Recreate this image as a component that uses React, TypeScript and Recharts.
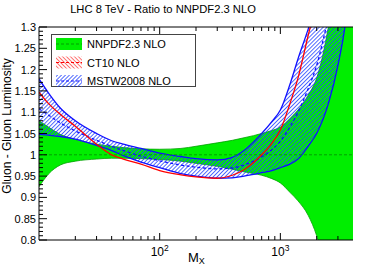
import React from 'react';
import { ComposedChart, Area, Line, XAxis, YAxis } from 'recharts';

// invariant mass points (GeV)
const massGeV = [10, 12, 15, 20, 30, 40, 50, 70, 100, 150, 200, 300, 400, 500, 600, 700, 850, 1000, 1200, 1400, 1700, 2000, 2500, 3000, 3500, 4000];

// NNPDF2.3 NLO band (ratio to itself)
const nnpdfLow = [0.925, 0.955, 0.976, 0.985, 0.99, 0.992, 0.992, 0.991, 0.989, 0.985, 0.98, 0.973, 0.966, 0.96, 0.956, 0.952, 0.944, 0.934, 0.912, 0.892, 0.858, 0.81, 0.7, 0.6, 0.5, 0.4];
const nnpdfHigh = [1.08, 1.065, 1.048, 1.036, 1.025, 1.02, 1.017, 1.014, 1.013, 1.015, 1.02, 1.028, 1.034, 1.04, 1.045, 1.05, 1.057, 1.065, 1.085, 1.105, 1.14, 1.18, 1.3, 1.45, 1.6, 1.8];
const nnpdfCentral = [1, 1, 1, 1, 1, 1, 1, 1, 1, 1, 1, 1, 1, 1, 1, 1, 1, 1, 1, 1, 1, 1, 1, 1, 1, 1];

// MSTW2008 NLO band
const mstwLow = [1.048, 1.046, 1.043, 1.037, 1.022, 1.01, 0.998, 0.983, 0.97, 0.956, 0.95, 0.945, 0.946, 0.95, 0.954, 0.958, 0.963, 0.97, 0.978, 0.99, 1.02, 1.05, 1.12, 1.21, 1.32, 1.5];
const mstwHigh = [1.178, 1.145, 1.11, 1.08, 1.05, 1.033, 1.025, 1.015, 1.004, 0.996, 0.991, 0.988, 0.994, 1.01, 1.03, 1.05, 1.078, 1.105, 1.165, 1.225, 1.295, 1.36, 1.5, 1.6, 1.7, 1.8];
const mstwCentral = [1.108, 1.093, 1.075, 1.056, 1.034, 1.02, 1.01, 0.997, 0.986, 0.976, 0.971, 0.967, 0.969, 0.976, 0.985, 0.995, 1.012, 1.032, 1.065, 1.1, 1.155, 1.21, 1.32, 1.4, 1.5, 1.6];

// CT10 NLO central
const ct10Central = [1.147, 1.12, 1.095, 1.067, 1.025, 1.0, 0.99, 0.978, 0.963, 0.953, 0.948, 0.945, 0.952, 0.965, 0.982, 1.0, 1.027, 1.058, 1.12, 1.18, 1.28, 1.36, 1.5, 1.6, 1.7, 1.8];

const xTicks = [20, 30, 40, 50, 60, 70, 80, 90, 100, 200, 300, 400, 500, 600, 700, 800, 900, 1000, 2000, 3000];
const xLabels: Record<number, string> = { 100: '2', 1000: '3' };

const yMajorLabels = ['0.8', '0.85', '0.9', '0.95', '1', '1.05', '1.1', '1.15', '1.2', '1.25', '1.3'];
const yTicks: number[] = [];
for (let i = 80; i <= 130; i++) yTicks.push(i / 100);

const data = massGeV.map((m, i) => ({
    m,
    nnpdf: [nnpdfLow[i], nnpdfHigh[i]],
    nnpdfMid: nnpdfCentral[i],
    mstw: [mstwLow[i], mstwHigh[i]],
    mstwMid: mstwCentral[i],
    ct10: ct10Central[i],
}));

const FONT = '"Liberation Sans", Arial, Helvetica, sans-serif';

const BottomTick = (props: any) => {
    const { x, y, payload } = props;
    const v = payload.value;
    const major = xLabels[v] !== undefined;
    return (
        <g>
            <line x1={x} y1={y} x2={x} y2={y - (major ? 7 : 4)} stroke="#000" />
            {major && (
                <text x={x} y={y + 16} textAnchor="middle" fontSize={12} fontFamily={FONT} fill="#000">
                    10<tspan dy={-5} fontSize={8.5}>{xLabels[v]}</tspan>
                </text>
            )}
        </g>
    );
};

const TopTick = (props: any) => {
    const { x, y, payload } = props;
    const major = xLabels[payload.value] !== undefined;
    return <line x1={x} y1={y} x2={x} y2={y + (major ? 7 : 4)} stroke="#000" />;
};

const LeftTick = (props: any) => {
    const { x, y, payload } = props;
    const k = Math.round(payload.value * 100);
    const major = k % 5 === 0;
    return (
        <g>
            <line x1={x} y1={y} x2={x + (major ? 8 : 4)} y2={y} stroke="#000" />
            {major && (
                <text x={x - 3} y={y + 4} textAnchor="end" fontSize={11} fontFamily={FONT} fill="#000">
                    {yMajorLabels[(k - 80) / 5]}
                </text>
            )}
        </g>
    );
};

export default function App() {
    return (
        <div style={{ position: 'absolute', left: 0, top: 0, width: 392, height: 266, background: '#fff' }}>
            <ComposedChart width={392} height={266} data={data} margin={{ top: 0, right: 39, bottom: 0, left: 0 }}>
                <XAxis
                    dataKey="m"
                    type="number"
                    scale="log"
                    domain={[10, 4000]}
                    allowDataOverflow
                    ticks={xTicks}
                    interval={0}
                    height={26}
                    tickSize={0}
                    tickMargin={0}
                    tickLine={false}
                    axisLine={{ stroke: '#000' }}
                    tick={<BottomTick />}
                />
                <XAxis
                    xAxisId="top"
                    orientation="top"
                    dataKey="m"
                    type="number"
                    scale="log"
                    domain={[10, 4000]}
                    allowDataOverflow
                    ticks={xTicks}
                    interval={0}
                    height={27}
                    tickSize={0}
                    tickMargin={0}
                    tickLine={false}
                    axisLine={{ stroke: '#000' }}
                    tick={<TopTick />}
                />
                <YAxis
                    type="number"
                    domain={[0.8, 1.3]}
                    allowDataOverflow
                    ticks={yTicks}
                    interval={0}
                    width={39}
                    tickSize={0}
                    tickMargin={0}
                    tickLine={false}
                    axisLine={{ stroke: '#000' }}
                    tick={<LeftTick />}
                />
                <Area
                    dataKey="nnpdf"
                    type="monotone"
                    fill="#00ee00"
                    fillOpacity={1}
                    stroke="#00a000"
                    strokeWidth={0.8}
                    dot={false}
                    activeDot={false}
                    isAnimationActive={false}
                />
                <Area
                    dataKey="mstw"
                    type="monotone"
                    fill="url(#mstwHatch)"
                    fillOpacity={1}
                    stroke="#1010ff"
                    strokeWidth={1.3}
                    dot={false}
                    activeDot={false}
                    isAnimationActive={false}
                />
                <Line
                    dataKey="nnpdfMid"
                    type="monotone"
                    stroke="#00a000"
                    strokeWidth={1}
                    strokeDasharray="3 2"
                    dot={false}
                    activeDot={false}
                    isAnimationActive={false}
                />
                <Line
                    dataKey="mstwMid"
                    type="monotone"
                    stroke="#1010ff"
                    strokeWidth={1.3}
                    strokeDasharray="3 2.5"
                    dot={false}
                    activeDot={false}
                    isAnimationActive={false}
                />
                <Line
                    dataKey="ct10"
                    type="monotone"
                    stroke="#ff0000"
                    strokeWidth={1.3}
                    dot={false}
                    activeDot={false}
                    isAnimationActive={false}
                />
            </ComposedChart>
            <svg width={392} height={266} style={{ position: 'absolute', left: 0, top: 0, pointerEvents: 'none' }}>
                <defs>
                    <pattern id="mstwHatch" patternUnits="userSpaceOnUse" width={2.8} height={6} patternTransform="rotate(45)">
                        <line x1={1.4} y1={0} x2={1.4} y2={6} stroke="#2040ff" strokeWidth={0.8} />
                    </pattern>
                    <pattern id="ct10Hatch" patternUnits="userSpaceOnUse" width={2.8} height={6} patternTransform="rotate(-45)">
                        <line x1={1.4} y1={0} x2={1.4} y2={6} stroke="#ff5050" strokeWidth={0.8} />
                    </pattern>
                </defs>
                <text x={163} y={13} textAnchor="middle" fontSize={11.2} fontFamily={FONT} fill="#000">
                    LHC 8 TeV - Ratio to NNPDF2.3 NLO
                </text>
                <text x={11} y={126} transform="rotate(-90 11 126)" textAnchor="middle" fontSize={12} fontFamily={FONT} fill="#000">
                    Gluon - Gluon Luminosity
                </text>
                <text x={188} y={262} fontSize={13} fontFamily={FONT} fill="#000">
                    M<tspan dy={2} fontSize={9}>X</tspan>
                </text>
                <rect x={51.5} y={34.5} width={144} height={52} fill="#fff" stroke="#444" strokeWidth={1} />
                <rect x={56} y={38} width={26} height={12} fill="#00ee00" />
                <line x1={56} y1={44} x2={82} y2={44} stroke="#00a000" strokeDasharray="3 2" />
                <text x={87} y={48} fontSize={11} fontFamily={FONT} fill="#000">NNPDF2.3 NLO</text>
                <rect x={56} y={56.5} width={26} height={12} fill="url(#ct10Hatch)" />
                <line x1={56} y1={62.5} x2={82} y2={62.5} stroke="#ff0000" strokeDasharray="3 2" />
                <text x={87} y={66.5} fontSize={11} fontFamily={FONT} fill="#000">CT10 NLO</text>
                <rect x={56} y={75} width={26} height={12} fill="url(#mstwHatch)" />
                <line x1={56} y1={81} x2={82} y2={81} stroke="#1010ff" strokeDasharray="3 2" />
                <text x={87} y={85} fontSize={11} fontFamily={FONT} fill="#000">MSTW2008 NLO</text>
            </svg>
        </div>
    );
}
